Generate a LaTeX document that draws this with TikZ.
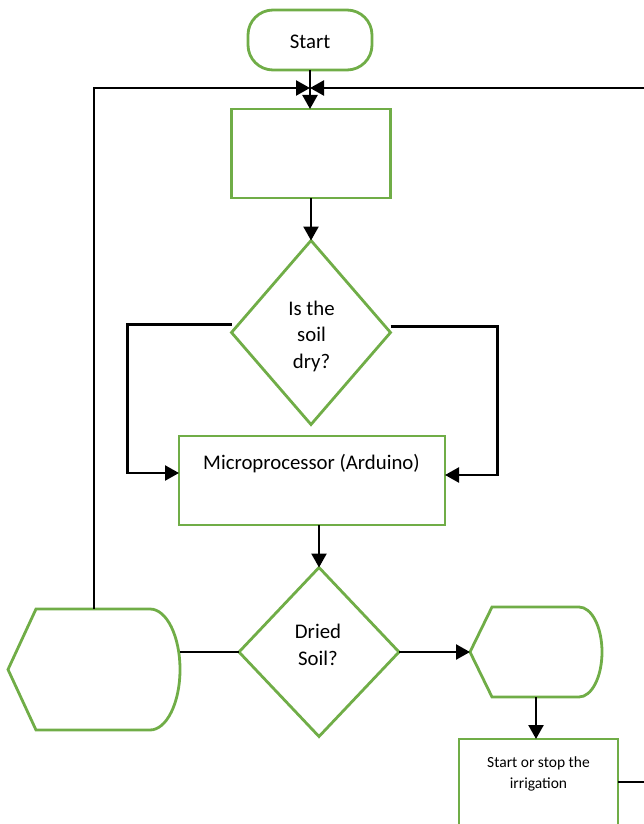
\documentclass[tikz,border=0pt]{standalone}
\usepackage{fontspec}
\setmainfont{Carlito}
\usetikzlibrary{shapes.geometric,arrows.meta,calc}
\definecolor{lgreen}{HTML}{70AD47}
\begin{document}
\begin{tikzpicture}[x=1pt,y=-1pt,
  shp/.style={draw=lgreen,line width=2.8pt,outer sep=0pt,inner sep=0pt},
  ghost/.style={outer sep=0pt,inner sep=0pt},
  conn/.style={draw=black,line width=2.4pt},
  arr/.style={conn,-{Triangle[length=14pt,width=15pt]}},
  txt/.style={font=\fontsize{20.8}{26.5}\selectfont,align=center,inner sep=0pt},
  smalltxt/.style={font=\fontsize{15.5}{21}\selectfont,align=center,inner sep=0pt}]
\clip (0,0) rectangle (644,824);
% shapes
\node[shp,rounded corners=25pt,minimum width=124pt,minimum height=60pt] (start) at (310,40) {};
\node[txt] (t0) at (310,42) {Start};
\node[shp,minimum width=159pt,minimum height=89pt] (box1) at (311,153.5) {};
\node[shp,diamond,minimum width=159pt,minimum height=184pt] (d1) at (311,332.5) {};
\node[txt] (t1) at (311.5,336) {Is the\\soil\\dry?};
\node[shp,minimum width=266pt,minimum height=89pt] (box2) at (312,480.5) {};
\node[txt] (t2) at (311.5,464) {Microprocessor (Arduino)};
\node[shp,diamond,minimum width=160pt,minimum height=169pt] (d2) at (319,652) {};
\node[txt] (t3) at (318,645) {Dried\\Soil?};
\node[ghost,minimum width=172pt,minimum height=121pt] (disp1) at (94,669.5) {};
\draw[shp] (disp1.west) -- ([xshift=28pt]disp1.north west) -- ([xshift=-30pt]disp1.north east)
  arc[start angle=90,end angle=-90,x radius=30pt,y radius=60.5pt] -- ([xshift=28pt]disp1.south west) -- cycle;
\node[ghost,minimum width=132pt,minimum height=90pt] (disp2) at (536,652) {};
\draw[shp] (disp2.west) -- ([xshift=22pt]disp2.north west) -- ([xshift=-23pt]disp2.north east)
  arc[start angle=90,end angle=-90,x radius=23pt,y radius=45pt] -- ([xshift=22pt]disp2.south west) -- cycle;
\node[shp,minimum width=159pt,minimum height=101pt] (box3) at (538.5,789.5) {};
\node[smalltxt] (t4) at (538.5,773.5) {Start or stop the\\irrigation};
% coordinates
\coordinate (j) at (310,88);
\coordinate (r1) at (650,88);
\coordinate (r2) at (650,782);
% connectors
\draw[arr] (start.south) -- (box1.north -| start.south);
\draw[arr] (disp1.north) -- (disp1.north |- j) -- (j);
\draw[arr] (r1) -- (j);
\draw[arr] (box1.south) -- (d1.north);
\draw[arr] ([yshift=8pt]d1.west) -- ++(-104,0) |- ([yshift=7.5pt]box2.west);
\draw[arr] ([yshift=6pt]d1.east) -- ++(107,0) |- ([yshift=5.5pt]box2.east);
\draw[arr] (box2.south -| d2.north) -- (d2.north);
\draw[conn] (d2.west) -- (d2.west -| disp1.east);
\draw[arr] (d2.east) -- (disp2.west);
\draw[arr] (disp2.south) -- (disp2.south |- box3.north);
\draw[conn] (box3.east |- r2) -- (r2);
\end{tikzpicture}
\end{document}
